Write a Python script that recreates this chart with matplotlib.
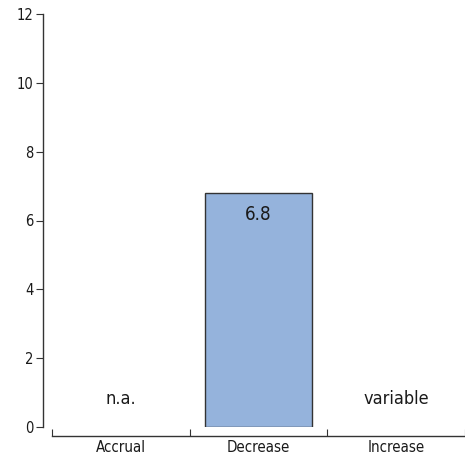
import matplotlib.pyplot as plt

plt.rcParams['font.family'] = ['DejaVu Sans']
plt.rcParams['font.stretch'] = 'condensed'

categories = ['Accrual', 'Decrease', 'Increase']
values = [0, 6.8, 0]
bar_labels = ['n.a.', '6.8', 'variable']
yticks = [0, 2, 4, 6, 8, 10, 12]

fig = plt.figure(figsize=(4.65, 4.59), dpi=100)
ax = fig.add_axes([52 / 465, 32 / 459, 413 / 465, 413 / 459])

x = range(len(categories))
for i, v in enumerate(values):
    if v > 0:
        ax.bar(i, v, width=0.78, color='#95b3dc', edgecolor='#333333', linewidth=1)
        ax.text(i, v - 0.62, bar_labels[i], ha='center', va='center', fontsize=13.5, color='#1a1a1a')
    else:
        ax.text(i, 0.8, bar_labels[i], ha='center', va='center', fontsize=13, color='#1a1a1a')

ax.set_xlim(-0.5, 2.5)
ax.set_ylim(0, 12)

for s in ['top', 'right']:
    ax.spines[s].set_visible(False)
ax.spines['left'].set_position(('outward', 6.5))
ax.spines['bottom'].set_position(('outward', 6.5))
for s in ['left', 'bottom']:
    ax.spines[s].set_color('#333333')
    ax.spines[s].set_linewidth(1)

ax.set_yticks(yticks)
ax.tick_params(axis='y', direction='out', length=5, color='#333333', labelsize=10.5, labelcolor='#1a1a1a', pad=2)

# category boundaries as ticks, labels on minor ticks at centres
ax.set_xticks([-0.5, 0.5, 1.5, 2.5])
ax.set_xticklabels([])
ax.set_xticks(list(x), minor=True)
ax.set_xticklabels(categories, minor=True)
ax.tick_params(axis='x', which='major', direction='in', length=5, color='#333333')
ax.tick_params(axis='x', which='minor', length=0, labelsize=10.8, labelcolor='#1a1a1a', pad=3)

plt.savefig('out.png', dpi=100)
